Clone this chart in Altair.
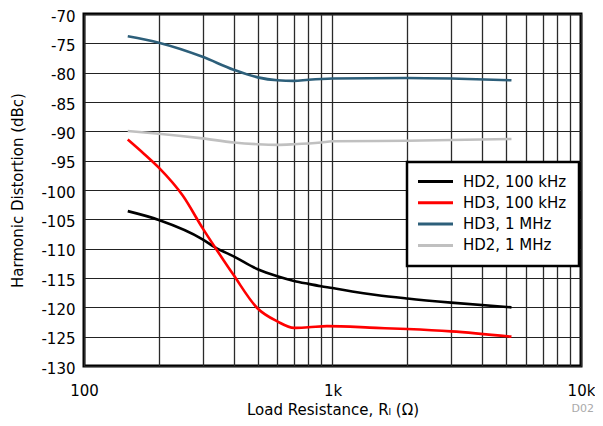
import altair as alt
import pandas as pd

# ---- data ----
series_names = ["HD2, 100 kHz", "HD3, 100 kHz", "HD3, 1 MHz", "HD2, 1 MHz"]
series_colors = ["#000000", "#ff0000", "#2d5f7a", "#c0c0c0"]

r_hd2_100k = [150, 200, 300, 337, 400, 500, 600, 700, 800, 900, 1000, 1200, 1500, 2000, 3000, 5250]
v_hd2_100k = [-103.6, -105.1, -108.4, -109.8, -111.3, -113.5, -114.7, -115.5, -116.0, -116.4,
              -116.7, -117.3, -117.9, -118.5, -119.2, -120.0]

r_hd3_100k = [150, 175, 200, 250, 300, 337, 400, 500, 600, 700, 800, 950, 1500, 2000, 3000, 5250]
v_hd3_100k = [-91.4, -93.9, -96.2, -101.0, -106.5, -109.8, -114.5, -120.2, -122.4, -123.5,
              -123.4, -123.2, -123.5, -123.7, -124.1, -125.0]

r_hd3_1m = [150, 200, 300, 400, 500, 600, 700, 800, 1000, 2000, 3000, 5250]
v_hd3_1m = [-73.8, -74.9, -77.3, -79.5, -80.8, -81.3, -81.4, -81.2, -81.0, -80.9, -81.0, -81.3]

r_hd2_1m = [150, 200, 300, 400, 500, 600, 700, 900, 1000, 2000, 5250]
v_hd2_1m = [-89.95, -90.4, -91.2, -91.9, -92.2, -92.3, -92.2, -91.9, -91.7, -91.6, -91.3]

x_ticks = [100, 200, 300, 400, 500, 600, 700, 800, 900,
           1000, 2000, 3000, 4000, 5000, 6000, 7000, 8000, 9000, 10000]
y_ticks = [-130, -125, -120, -115, -110, -105, -100, -95, -90, -85, -80, -75, -70]

rows = []
for name, rs, vs in zip(series_names,
                        [r_hd2_100k, r_hd3_100k, r_hd3_1m, r_hd2_1m],
                        [v_hd2_100k, v_hd3_100k, v_hd3_1m, v_hd2_1m]):
    for r, v in zip(rs, vs):
        rows.append({"series": name, "R": r, "dB": v})
df = pd.DataFrame(rows)

FONT = "DejaVu Sans"

chart = alt.Chart(df).mark_line(strokeWidth=2.6, interpolate="monotone").encode(
    x=alt.X("R:Q",
            scale=alt.Scale(type="log", domain=[100, 10000], nice=False),
            axis=alt.Axis(values=x_ticks,
                          labelExpr="datum.value == 100 ? '100' : datum.value == 1000 ? '1k' : datum.value == 10000 ? '10k' : ''",
                          tickSize=0, domain=False, grid=True,
                          gridColor="#2a2a2a", gridWidth=1.3,
                          labelOverlap=False, labelFlush=False, labelBound=False,
                          labelPadding=17, labelFont=FONT, labelFontSize=15, labelColor="black",
                          title="Load Resistance, Rₗ (Ω)",
                          titleFont=FONT, titleFontSize=15, titleFontWeight="normal",
                          titleColor="black", titleY=48, titleBaseline="alphabetic")),
    y=alt.Y("dB:Q",
            scale=alt.Scale(domain=[-130, -70], nice=False, zero=False),
            axis=alt.Axis(values=y_ticks, labelExpr="'' + datum.value",
                          tickSize=0, domain=False, grid=True,
                          gridColor="#222222", gridWidth=1.2,
                          labelOverlap=False, labelPadding=9, labelOffset=2,
                          labelFont=FONT, labelFontSize=15, labelColor="black",
                          title="Harmonic Distortion (dBc)",
                          titleFont=FONT, titleFontSize=15, titleFontWeight="normal",
                          titleColor="black", titleX=-67, titleY=176,
                          titleAngle=270, titleBaseline="middle")),
    color=alt.Color("series:N",
                    scale=alt.Scale(domain=series_names, range=series_colors),
                    legend=alt.Legend(orient="none", legendX=323, legendY=148,
                                      title=None, symbolType="M-3.5,0L3.5,0",
                                      symbolSize=100, symbolStrokeWidth=3,
                                      symbolOffset=9,
                                      labelFont=FONT, labelFontSize=15, labelColor="black",
                                      labelOffset=20, padding=12, rowPadding=5.3,
                                      strokeColor="black", fillColor="white")),
).properties(
    width=497, height=352,
    title=alt.TitleParams("D02", orient="bottom", anchor="end", font=FONT,
                          fontSize=11, fontWeight="normal", color="#aaaaaa",
                          offset=-14, dx=-1),
    autosize=alt.AutoSizeParams(type="none"),
    padding={"left": 76, "top": 6, "right": 14, "bottom": 52},
).configure_view(stroke="black", strokeWidth=3).configure_legend(strokeWidth=2.5)

chart.save("out.html", embed_options={"renderer": "svg", "actions": False})
